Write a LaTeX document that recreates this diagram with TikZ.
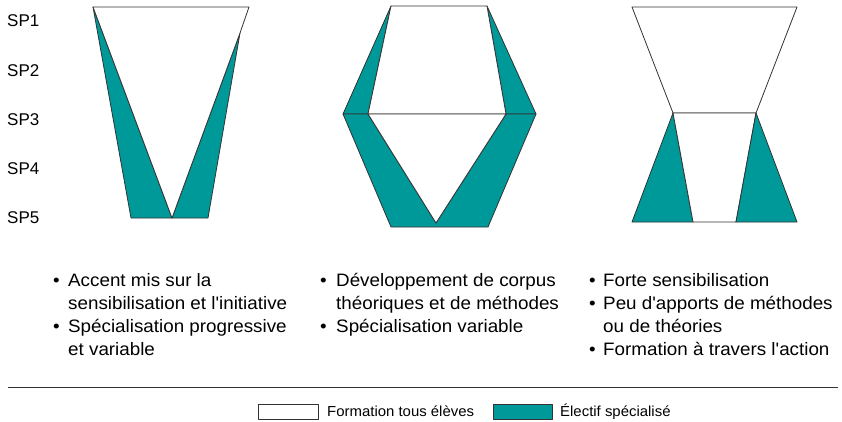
\documentclass[tikz,border=0pt]{standalone}
\usepackage{fontspec}
\setmainfont{Liberation Sans}[Ligatures=TeXOff]
\newfontfamily\bodyfont{Liberation Sans}[Ligatures=TeXOff,FakeStretch=1.045]
\newfontfamily\legfont{Liberation Sans}[Ligatures=TeXOff,FakeStretch=1.03]
\definecolor{tealfill}{HTML}{009999}
\definecolor{edgecol}{HTML}{333333}
\begin{document}
\begin{tikzpicture}[x=1pt,y=-1pt,
  tealpart/.style={fill=tealfill,draw=edgecol,line width=0.8pt,line join=round},
  whitepart/.style={fill=white,draw=edgecol,line width=0.8pt,line join=round},
  splabel/.style={anchor=base west,inner sep=0pt,font=\fontsize{17}{20}\selectfont},
  bul/.style={anchor=base west,inner sep=0pt,font=\bodyfont\fontsize{18}{22}\selectfont},
  legtext/.style={anchor=west,inner sep=0pt,font=\legfont\fontsize{14.5}{16}\selectfont}]
\useasboundingbox (0,0) rectangle (842,422);
% labels
\node[splabel] (sp1) at (7,26.5) {SP1};
\node[splabel] (sp2) at (7,76.5) {SP2};
\node[splabel] (sp3) at (7,126) {SP3};
\node[splabel] (sp4) at (7,175) {SP4};
\node[splabel] (sp5) at (7,223.5) {SP5};
% shape 1
\coordinate (a1) at (93,7); \coordinate (b1) at (249,7); \coordinate (c1) at (240,33);
\coordinate (d1) at (208,218); \coordinate (e1) at (172,218); \coordinate (f1) at (131,218);
\draw[tealpart] (a1) -- (f1) -- (e1) -- cycle;
\draw[tealpart] (c1) -- (d1) -- (e1) -- cycle;
\draw[whitepart] (a1) -- (b1) -- (c1) -- (e1) -- cycle;
% shape 2
\coordinate (p1) at (391,6); \coordinate (p2) at (487,6);
\coordinate (l0) at (343,114); \coordinate (l1) at (368,114);
\coordinate (r1) at (506,114); \coordinate (r0) at (536,114);
\coordinate (v) at (436,223); \coordinate (q1) at (391,227); \coordinate (q2) at (488,227);
\draw[tealpart] (p1) -- (l0) -- (l1) -- cycle;
\draw[tealpart] (p2) -- (r0) -- (r1) -- cycle;
\draw[whitepart] (p1) -- (p2) -- (r1) -- (l1) -- cycle;
\draw[tealpart] (l0) -- (l1) -- (v) -- (r1) -- (r0) -- (q2) -- (q1) -- cycle;
\draw[whitepart] (l1) -- (r1) -- (v) -- cycle;
% shape 3
\coordinate (t1) at (632,7); \coordinate (t2) at (797,7);
\coordinate (m1) at (673,113); \coordinate (m2) at (756,113);
\coordinate (g1) at (632,222); \coordinate (g2) at (693,222);
\coordinate (g3) at (736,222); \coordinate (g4) at (797,222);
\draw[whitepart] (t1) -- (t2) -- (m2) -- (m1) -- cycle;
\draw[tealpart] (m1) -- (g1) -- (g2) -- cycle;
\draw[whitepart] (m1) -- (m2) -- (g3) -- (g2) -- cycle;
\draw[tealpart] (m2) -- (g3) -- (g4) -- cycle;
% column 1
\node[bul] (b11) at (53,286.5) {•};
\node[bul] (t11) at (68,286.5) {Accent mis sur la};
\node[bul] (t12) at (68,309.5) {sensibilisation et l'initiative};
\node[bul] (b12) at (53,332.5) {•};
\node[bul] (t13) at (68,332.5) {Spécialisation progressive};
\node[bul] (t14) at (68,355.5) {et variable};
% column 2
\node[bul] (b21) at (320,286.5) {•};
\node[bul] (t21) at (336,286.5) {Développement de corpus};
\node[bul] (t22) at (336,309.5) {théoriques et de méthodes};
\node[bul] (b22) at (320,332.5) {•};
\node[bul] (t23) at (336,332.5) {Spécialisation variable};
% column 3
\node[bul] (b31) at (589,286.5) {•};
\node[bul] (t31) at (603,286.5) {Forte sensibilisation};
\node[bul] (b32) at (589,309.5) {•};
\node[bul] (t32) at (603,309.5) {Peu d'apports de méthodes};
\node[bul] (t33) at (603,332.5) {ou de théories};
\node[bul] (b33) at (589,355.5) {•};
\node[bul] (t34) at (603,355.5) {Formation à travers l'action};
% rule
\coordinate (rl) at (8,387); \coordinate (rr) at (838,387);
\draw[edgecol,line width=0.8pt] (rl) -- (rr);
% legend
\draw[whitepart] (258,404) rectangle (318,419);
\node[legtext] (lg1) at (327,411.5) {Formation tous élèves};
\draw[tealpart] (493,404) rectangle (552,419);
\node[legtext] (lg2) at (560,411.5) {Électif spécialisé};
\end{tikzpicture}
\end{document}
